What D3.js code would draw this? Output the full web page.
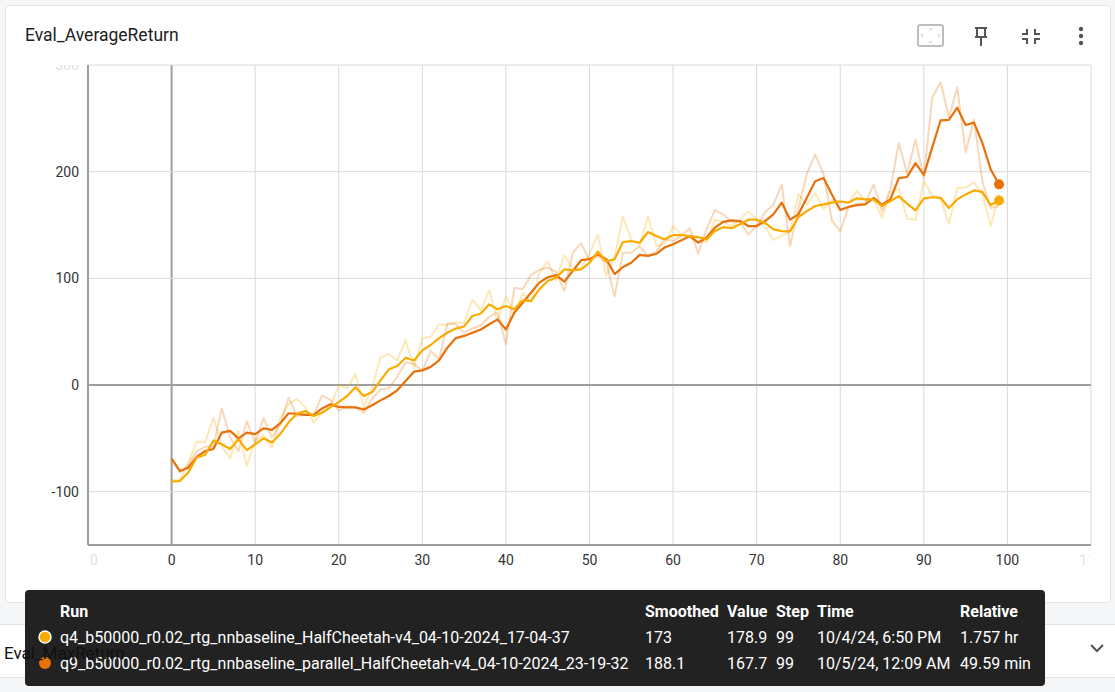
<!DOCTYPE html>
<html>
<head>
<meta charset="utf-8">
<script src="https://cdn.jsdelivr.net/npm/d3@7"></script>
<style>
  body { margin: 0; background: #f5f6f7; font-family: Roboto, "Noto Sans", sans-serif; }
  svg { display: block; }
</style>
</head>
<body>
<script>
// steps 0..99
var steps = d3.range(0, 100);

var q4Raw = [-89,-89,-73,-53,-54,-31,-57,-69,-43,-76,-52,-47,-59,-31,-18,-13,-21,-35,-26,-20,
  0,-3,10,-21,-2,26,29,23,42,16,44,45,57,56,59,58,80,70,89,60,
  83,67,86,78,105,116,98,122,108,110,123,141,102,120,158,136,131,158,130,132,
  149,141,139,138,134,155,153,149,155,163,155,148,136,140,144,179,169,180,165,173,
  172,171,182,173,174,157,181,184,156,155,191,178,175,151,185,185,190,179,149,178.9];

var q4Smooth = [-90.6,-90,-82,-68,-65.6,-52,-55.6,-60,-51,-61,-55.6,-50,-54,-46,-35,-27,-24.4,-29,-26,-21,
  -16,-10.3,-2,-10.3,-6.6,4.4,14.7,17.8,25.6,23,32.5,37.5,44,49,53,55,64.7,67,75.6,71,
  74,71,79.4,78.7,89.7,97.5,100.6,108.4,107.5,108.4,114.6,125,116,117.8,134,135,133.4,143.4,139.6,136.5,
  140.6,140.6,139.6,138.7,136.5,144.3,148,147,150.6,155,155,152,146,144.3,144,157.5,163,167.8,169.3,171,
  172,171,175,174,174,167.8,172.4,177,170,163.7,175,176,175.5,166,174,178.7,182.4,181,168.7,173];

var q9Raw = [-70,-82,-75,-62,-58,-58,-22,-49,-62,-34,-54,-31,-49,-37,-12,-29,-28,-28,-10,-14,
  -24,-20,-21,-26,-13,-4,-3,8,21,20,13,32,24,58,57,49,53,56,64,68,
  38,91,90,103,108,110,106,88,124,133,117,121,115,83,124,124,130,121,125,137,
  135,140,147,123,146,164,160,153,153,141,149,162,169,188,130,166,198,216,198,154,
  144,167,170,170,188,163,184,227,198,230,194,269,284,251,279,218,249,191,166,167.7];

var q9Smooth = [-69,-80.6,-77.5,-67.5,-62,-60,-44.7,-43,-50,-44.7,-46,-40.6,-42,-36,-26.5,-27,-28,-28,-22,-18,
  -20.6,-21,-21,-23,-19,-14.4,-10.3,-5,3.7,12.5,13.7,17,23,35,44,46,49,52,57,61.5,
  52,67.8,77,86.5,96,101,103,97,107,117,118,122.5,118,104,110.6,114.6,122,121,123,129,
  132,135.6,139.6,133.4,138,147.5,153,154.3,153.7,149,149,153.7,160,171,155,160,175.5,191,194,178.7,
  164,167,168.7,169.3,175.5,169,174,194,195,208,197,222.5,248,248.6,260,243.7,246,227,202,188.1];

var xTicks = d3.range(-10, 111, 10);
var yTicks = [-100, 0, 100, 200, 300];

var runs = [
  { name: "q4_b50000_r0.02_rtg_nnbaseline_HalfCheetah-v4_04-10-2024_17-04-37", color: "#f9ab00",
    raw: q4Raw, smooth: q4Smooth, smoothedTxt: "173", valueTxt: "178.9", stepTxt: "99",
    timeTxt: "10/4/24, 6:50 PM", relTxt: "1.757 hr" },
  { name: "q9_b50000_r0.02_rtg_nnbaseline_parallel_HalfCheetah-v4_04-10-2024_23-19-32", color: "#e8710a",
    raw: q9Raw, smooth: q9Smooth, smoothedTxt: "188.1", valueTxt: "167.7", stepTxt: "99",
    timeTxt: "10/5/24, 12:09 AM", relTxt: "49.59 min" }
];

var W = 1115, H = 692;
var svg = d3.select("body").append("svg").attr("width", W).attr("height", H);

// card
svg.append("rect").attr("x", 5.5).attr("y", 5.5).attr("width", 1105).attr("height", 597)
  .attr("rx", 4).attr("fill", "#fff").attr("stroke", "#e3e3e3");

// second card (below)
svg.append("rect").attr("x", 0).attr("y", 624).attr("width", W).attr("height", 53)
  .attr("fill", "#fff");
svg.append("line").attr("x1", 0).attr("x2", W).attr("y1", 624.5).attr("y2", 624.5).attr("stroke", "#e3e3e3");
svg.append("line").attr("x1", 0).attr("x2", W).attr("y1", 677.5).attr("y2", 677.5).attr("stroke", "#e3e3e3");

svg.append("text").attr("x", 25).attr("y", 41).attr("font-size", 17.5).attr("fill", "#212121")
  .text("Eval_AverageReturn");

var plotL = 88, plotR = 1091, plotT = 65, plotB = 545;
var x = d3.scaleLinear().domain([-10, 110]).range([plotL, plotR]);
var y = d3.scaleLinear().domain([-150, 300]).range([plotB, plotT]);

svg.append("clipPath").attr("id", "plotclip").append("rect")
  .attr("x", plotL).attr("y", plotT - 2).attr("width", plotR - plotL).attr("height", plotB - plotT + 2);

var grid = svg.append("g");
grid.selectAll(".vg").data(xTicks).enter().append("line")
  .attr("x1", function(d) { return x(d); }).attr("x2", function(d) { return x(d); })
  .attr("y1", plotT).attr("y2", plotB)
  .attr("stroke", function(d) { return d === 0 ? "#9e9e9e" : "#dadada"; })
  .attr("stroke-width", function(d) { return d === 0 ? 2 : 1; });
grid.selectAll(".hg").data(yTicks).enter().append("line")
  .attr("x1", plotL).attr("x2", plotR)
  .attr("y1", function(d) { return y(d); }).attr("y2", function(d) { return y(d); })
  .attr("stroke", function(d) { return d === 0 ? "#9e9e9e" : "#dadada"; })
  .attr("stroke-width", function(d) { return d === 0 ? 2 : 1; });

// axis lines
svg.append("line").attr("x1", plotL).attr("x2", plotL).attr("y1", plotT).attr("y2", plotB)
  .attr("stroke", "#9e9e9e").attr("stroke-width", 2);
svg.append("line").attr("x1", plotL).attr("x2", plotR).attr("y1", plotB).attr("y2", plotB)
  .attr("stroke", "#9e9e9e").attr("stroke-width", 2);

// tick labels
svg.append("clipPath").attr("id", "xlabclip").append("rect")
  .attr("x", plotL).attr("y", plotB).attr("width", plotR - plotL - 2).attr("height", 30);
svg.append("g").attr("clip-path", "url(#xlabclip)")
  .selectAll("text").data(xTicks).enter().append("text")
  .attr("x", function(d) { return x(d); }).attr("y", 565)
  .attr("text-anchor", "middle").attr("font-size", 14)
  .attr("fill", "#333")
  .attr("opacity", function(d) { return (d < 0 || d > 100) ? 0.15 : 1; })
  .text(function(d) { return d; });

svg.append("clipPath").attr("id", "ylabclip").append("rect")
  .attr("x", 40).attr("y", plotT).attr("width", 48).attr("height", plotB - plotT);
svg.append("g").attr("clip-path", "url(#ylabclip)")
  .selectAll("text").data(yTicks).enter().append("text")
  .attr("x", 79).attr("y", function(d) { return y(d) + 5; })
  .attr("text-anchor", "end").attr("font-size", 14)
  .attr("fill", "#333")
  .attr("opacity", function(d) { return d === 300 ? 0.15 : 1; })
  .text(function(d) { return d; });

// lines
var line = d3.line()
  .x(function(d, i) { return x(steps[i]); })
  .y(function(d) { return y(d); });

var plot = svg.append("g").attr("clip-path", "url(#plotclip)");
runs.forEach(function(r) {
  plot.append("path").attr("d", line(r.raw)).attr("fill", "none")
    .attr("stroke", r.color).attr("stroke-opacity", 0.28).attr("stroke-width", 2)
    .attr("stroke-linejoin", "round");
});
runs.slice().reverse().forEach(function(r) {
  plot.append("path").attr("d", line(r.smooth)).attr("fill", "none")
    .attr("stroke", r.color).attr("stroke-width", 2.2)
    .attr("stroke-linejoin", "round");
});
runs.forEach(function(r) {
  plot.append("circle").attr("cx", x(99)).attr("cy", y(r.smooth[99])).attr("r", 5)
    .attr("fill", r.color);
});

// toolbar icons
var ic = svg.append("g").attr("fill", "none");
ic.append("rect").attr("x", 918).attr("y", 25).attr("width", 25).attr("height", 21).attr("rx", 2)
  .attr("stroke", "#bdbdbd").attr("stroke-width", 2);
ic.append("path").attr("d", "M929,30 l1.5,-2 l1.5,2 M929,41 l1.5,2 l1.5,-2 M923,34 l-2,1.5 l2,1.5 M938,34 l2,1.5 l-2,1.5")
  .attr("stroke", "#c8c8c8").attr("stroke-width", 1);
// pin
ic.append("path").attr("d", "M975,28 h12 M977,28 v9 M985,28 v9 M975,37 h12 M981,37 v9")
  .attr("stroke", "#555").attr("stroke-width", 2);
// collapse
ic.append("path").attr("d", "M1022,34 h5 v-5 M1040,34 h-5 v-5 M1022,39 h5 v5 M1040,39 h-5 v5")
  .attr("stroke", "#555").attr("stroke-width", 2);
// more
[29, 36, 43].forEach(function(cy) {
  svg.append("circle").attr("cx", 1081).attr("cy", cy).attr("r", 2.2).attr("fill", "#555");
});

// chevron lower card
svg.append("path").attr("d", "M1091,645 l6,6 l6,-6").attr("fill", "none")
  .attr("stroke", "#555").attr("stroke-width", 2);

// tooltip
var tt = svg.append("g");
tt.append("rect").attr("x", 25).attr("y", 590).attr("width", 1020).attr("height", 96)
  .attr("rx", 4).attr("fill", "#222");
var cols = [
  { key: "name", head: "Run", x: 60 },
  { key: "smoothedTxt", head: "Smoothed", x: 645 },
  { key: "valueTxt", head: "Value", x: 727 },
  { key: "stepTxt", head: "Step", x: 776 },
  { key: "timeTxt", head: "Time", x: 817 },
  { key: "relTxt", head: "Relative", x: 960 }
];
cols.forEach(function(c) {
  tt.append("text").attr("x", c.x).attr("y", 617).attr("font-size", 16).attr("font-weight", "bold")
    .attr("fill", "#fff").text(c.head);
});
runs.forEach(function(r, i) {
  var ry = 643 + i * 26;
  tt.append("circle").attr("cx", 45).attr("cy", ry - 6).attr("r", 6).attr("fill", r.color)
    .attr("stroke", i === 0 ? "#fff" : "none").attr("stroke-width", 1.5);
  cols.forEach(function(c) {
    tt.append("text").attr("x", c.x).attr("y", ry).attr("font-size", 16)
      .attr("fill", "#fff").text(r[c.key]);
  });
});

svg.append("text").attr("x", 4).attr("y", 659).attr("font-size", 17).attr("fill", "#111")
  .text("Eval_MaxReturn");
</script>
</body>
</html>
